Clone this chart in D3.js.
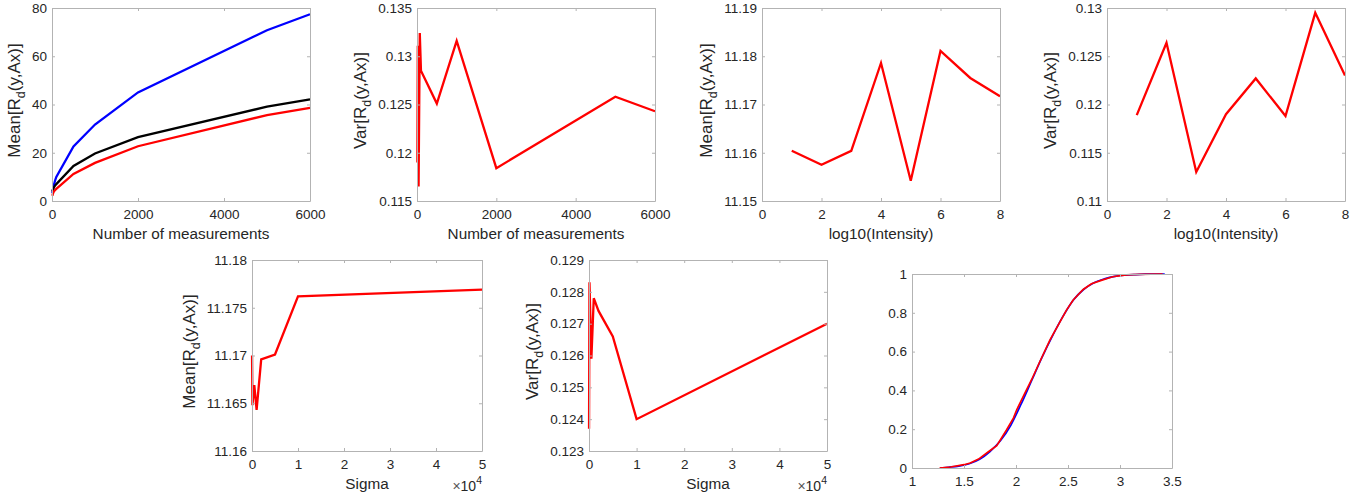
<!DOCTYPE html>
<html>
<head>
<meta charset="utf-8">
<script src="https://cdn.jsdelivr.net/npm/d3@7"></script>
<style>
  body { margin: 0; background: #fff; }
  text { font-family: "Liberation Sans", Arial, Helvetica, sans-serif; }
</style>
</head>
<body>
<svg id="fig" width="1364" height="496"></svg>
<script>
// --- number of measurements sweep (top left two panels)
const measN     = [10, 20, 40, 70, 100, 500, 1000, 2000, 5000, 6000];
const meanBlue  = [3.2, 4.5, 6.3, 8.4, 10.0, 22.6, 31.7, 45.0, 70.8, 77.4];
const meanBlack = [3.9, 4.6, 5.5, 6.4, 7.0, 14.5, 19.7, 26.5, 39.1, 42.1];
const meanRed   = [2.2, 3.0, 3.8, 4.5, 5.0, 11.2, 15.8, 22.7, 35.6, 38.6];
const varMeas   = [0.1190, 0.1311, 0.1165, 0.1324, 0.1285, 0.1251, 0.1316, 0.1184, 0.1258, 0.1243];

// --- intensity sweep
const logI     = [1, 2, 3, 4, 5, 6, 7, 8];
const meanInt  = [11.1604, 11.1575, 11.1604, 11.1786, 11.1542, 11.1811, 11.1755, 11.1717];
const varInt   = [0.1189, 0.1264, 0.1130, 0.1190, 0.1227, 0.1188, 0.1295, 0.1230];

// --- sigma sweep
const sigma     = [10, 100, 500, 1000, 2000, 5000, 10000, 50000];
const meanSigma = [11.1700, 11.1648, 11.1669, 11.1643, 11.1696, 11.1701, 11.1762, 11.1769];
const varSigma  = [0.1237, 0.1283, 0.1259, 0.1278, 0.1274, 0.1266, 0.1240, 0.1270];

// --- empirical vs. model CDF
const cdfXRed   = [1.265, 1.37, 1.50, 1.56, 1.64, 1.735, 1.815, 1.91, 1.975, 2.007, 2.07, 2.15, 2.23, 2.327, 2.407, 2.487, 2.55, 2.646, 2.726, 2.82, 2.93, 3.06, 3.19, 3.41];
const cdfYRed   = [0, 0.005, 0.017, 0.026, 0.046, 0.084, 0.115, 0.197, 0.257, 0.30, 0.369, 0.455, 0.549, 0.66, 0.738, 0.815, 0.866, 0.92, 0.95, 0.967, 0.986, 0.995, 0.998, 1.0];
const cdfXBlue  = [1.27, 1.35, 1.45, 1.55, 1.65, 1.75, 1.85, 1.95, 2.05, 2.15, 2.25, 2.35, 2.45, 2.55, 2.65, 2.75, 2.85, 2.95, 3.05, 3.15, 3.25, 3.35, 3.43];
const cdfYBlue  = [0, 0.004, 0.010, 0.022, 0.045, 0.085, 0.140, 0.220, 0.330, 0.450, 0.570, 0.680, 0.780, 0.865, 0.920, 0.955, 0.975, 0.988, 0.994, 0.997, 0.999, 1.0, 1.0];

// --- tick values
const ticksMeasX  = [0, 2000, 4000, 6000];
const ticksMeanY  = [0, 20, 40, 60, 80];
const ticksVarMY  = [0.115, 0.12, 0.125, 0.13, 0.135];
const ticksIntX   = [0, 2, 4, 6, 8];
const ticksMeanIY = [11.15, 11.16, 11.17, 11.18, 11.19];
const ticksVarIY  = [0.11, 0.115, 0.12, 0.125, 0.13];
const ticksSigX   = [0, 10000, 20000, 30000, 40000, 50000];
const ticksMeanSY = [11.16, 11.165, 11.17, 11.175, 11.18];
const ticksVarSY  = [0.123, 0.124, 0.125, 0.126, 0.127, 0.128, 0.129];
const ticksCdfX   = [1, 1.5, 2, 2.5, 3, 3.5];
const ticksCdfY   = [0, 0.2, 0.4, 0.6, 0.8, 1];

const svg = d3.select("#fig");
svg.append("rect").attr("width", 1364).attr("height", 496).attr("fill", "#fff");

const AXC = "#b3b3b3", TXC = "#262626";
const num = d => String(+d.toFixed(4));
const zip = (xs, ys) => xs.map((x, i) => [x, ys[i]]);

const panels = [
  { box: [52, 310, 8, 201], xd: [0, 6000], yd: [0, 80], xt: ticksMeasX, yt: ticksMeanY,
    xlabel: "Number of measurements", ylabel: "Mean",
    series: [[zip(measN, meanBlue), "#0000ff"], [zip(measN, meanBlack), "#000"], [zip(measN, meanRed), "#ff0000"]] },
  { box: [417, 655, 8, 201], xd: [0, 6000], yd: [0.115, 0.135], xt: ticksMeasX, yt: ticksVarMY,
    xlabel: "Number of measurements", ylabel: "Var",
    series: [[zip(measN, varMeas), "#ff0000"]] },
  { box: [762, 1000, 8, 201], xd: [0, 8], yd: [11.15, 11.19], xt: ticksIntX, yt: ticksMeanIY,
    xlabel: "log10(Intensity)", ylabel: "Mean",
    series: [[zip(logI, meanInt), "#ff0000"]] },
  { box: [1107, 1345, 8, 201], xd: [0, 8], yd: [0.11, 0.13], xt: ticksIntX, yt: ticksVarIY,
    xlabel: "log10(Intensity)", ylabel: "Var",
    series: [[zip(logI, varInt), "#ff0000"]] },
  { box: [252, 482, 260, 451], xd: [0, 50000], yd: [11.16, 11.18], xt: ticksSigX, yt: ticksMeanSY,
    xlabel: "Sigma", ylabel: "Mean", exp: true,
    series: [[zip(sigma, meanSigma), "#ff0000"]] },
  { box: [589, 827, 260, 451], xd: [0, 50000], yd: [0.123, 0.129], xt: ticksSigX, yt: ticksVarSY,
    xlabel: "Sigma", ylabel: "Var", exp: true,
    series: [[zip(sigma, varSigma), "#ff0000"]] },
  { box: [912, 1172, 274, 468], xd: [1, 3.5], yd: [0, 1], xt: ticksCdfX, yt: ticksCdfY,
    lw: 1.7, smooth: true,
    series: [[zip(cdfXBlue, cdfYBlue), "#0000ff"], [zip(cdfXRed, cdfYRed), "#ff0000"]] }
];

function styleAxis(g) {
  g.attr("font-size", null).attr("font-family", null);
  g.select(".domain").attr("stroke", AXC);
  g.selectAll(".tick line").attr("stroke", AXC);
  g.selectAll(".tick text").attr("fill", TXC).style("font-size", "13.5px");
}

panels.forEach(p => {
  const [x0, x1, y0, y1] = p.box;
  const x = d3.scaleLinear().domain(p.xd).range([x0, x1]);
  const y = d3.scaleLinear().domain(p.yd).range([y1, y0]);
  const g = svg.append("g");
  const fx = p.exp ? (d => String(d / 1e4)) : num;

  // data lines
  p.series.forEach(([pts, col], i) => {
    const line = d3.line().x(d => x(d[0])).y(d => y(d[1]));
    if (p.smooth && i == 0) line.curve(d3.curveMonotoneX);
    g.append("path")
      .datum(pts)
      .attr("fill", "none")
      .attr("stroke", col)
      .attr("stroke-width", p.lw || 2.3)
      .attr("d", line);
  });

  // box with inward ticks
  g.append("g").attr("transform", `translate(0,${y1})`)
    .call(d3.axisBottom(x).tickValues(p.xt).tickSize(-3).tickSizeOuter(0).tickPadding(8).tickFormat(fx))
    .call(styleAxis);
  g.append("g").attr("transform", `translate(0,${y0})`)
    .call(d3.axisTop(x).tickValues(p.xt).tickSize(-3).tickSizeOuter(0).tickFormat(() => ""))
    .call(styleAxis);
  const left = g.append("g").attr("transform", `translate(${x0},0)`)
    .call(d3.axisLeft(y).tickValues(p.yt).tickSize(-3).tickSizeOuter(0).tickPadding(5).tickFormat(num))
    .call(styleAxis);
  g.append("g").attr("transform", `translate(${x1},0)`)
    .call(d3.axisRight(y).tickValues(p.yt).tickSize(-3).tickSizeOuter(0).tickFormat(() => ""))
    .call(styleAxis);

  if (p.xlabel) {
    g.append("text")
      .attr("x", (x0 + x1) / 2).attr("y", y1 + 38)
      .attr("text-anchor", "middle").attr("fill", TXC)
      .style("font-size", "15.3px")
      .text(p.xlabel);
  }
  if (p.ylabel) {
    let maxW = 0;
    left.selectAll(".tick text").each(function () { maxW = Math.max(maxW, this.getComputedTextLength()); });
    const lx = x0 - 5 - maxW - 12;
    const t = g.append("text")
      .attr("transform", `translate(${lx},${(y0 + y1) / 2 - 4}) rotate(-90)`)
      .attr("text-anchor", "middle").attr("fill", TXC)
      .style("font-size", "17px");
    t.append("tspan").text(p.ylabel + "[R");
    t.append("tspan").attr("dy", 5).style("font-size", "12.5px").text("d");
    t.append("tspan").attr("dy", -5).text("(y,Ax)]");
  }
  if (p.exp) {
    const t = g.append("text")
      .attr("x", x1).attr("y", y1 + 40)
      .attr("text-anchor", "end").attr("fill", TXC)
      .style("font-size", "14px");
    t.append("tspan").attr("fill", "#555").text("\u00d7");
    t.append("tspan").text("10");
    t.append("tspan").attr("dy", -7).style("font-size", "10.5px").text("4");
  }
});
</script>
</body>
</html>
